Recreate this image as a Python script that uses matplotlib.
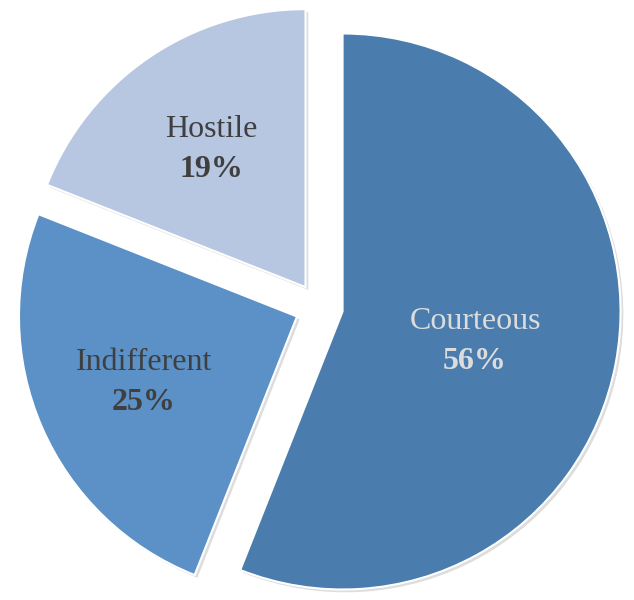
import numpy as np
import matplotlib
matplotlib.use("Agg")
import matplotlib.pyplot as plt
import matplotlib.patheffects as pe

labels = ["Courteous", "Indifferent", "Hostile"]
values = [56, 25, 19]
colors = ["#4a7dad", "#5b91c6", "#b7c7e2"]
text_colors = ["#dcdcdc", "#3f3f3f", "#3f3f3f"]
label_dist = [0.485, 0.6, 0.6]

plt.rcParams['font.family'] = ['Liberation Serif', 'DejaVu Serif']

fig = plt.figure(figsize=(6.34, 6.0), dpi=100)
ax = fig.add_axes([0, 0, 1, 1])

wedges, _ = ax.pie(values, colors=colors, startangle=90, counterclock=False,
                   center=(319, 293), radius=278, explode=[24, 24, 24],
                   wedgeprops=dict(edgecolor="white", linewidth=1.5))

# soft drop shadow like the office chart
for w in wedges:
    w.set_path_effects([pe.SimplePatchShadow(offset=(2, -2), shadow_rgbFace="#909090", alpha=0.3),
                        pe.Normal()])

total = sum(values)
for w, name, v, tc, d in zip(wedges, labels, values, text_colors, label_dist):
    th = np.deg2rad((w.theta1 + w.theta2) / 2)
    cx, cy = w.center
    x = cx + d * w.r * np.cos(th)
    y = cy + d * w.r * np.sin(th) - (5 if name == "Courteous" else 0)
    ax.text(x, y + 20, name, ha="center", va="center", fontsize=23, color=tc)
    ax.text(x, y - 20, f"{v / total * 100:.0f}%", ha="center", va="center",
            fontsize=23, fontweight="bold", color=tc)

ax.set_xlim(0, 634)
ax.set_ylim(0, 600)
ax.set_aspect("equal")
ax.axis("off")

fig.savefig("out.png", dpi=100)
